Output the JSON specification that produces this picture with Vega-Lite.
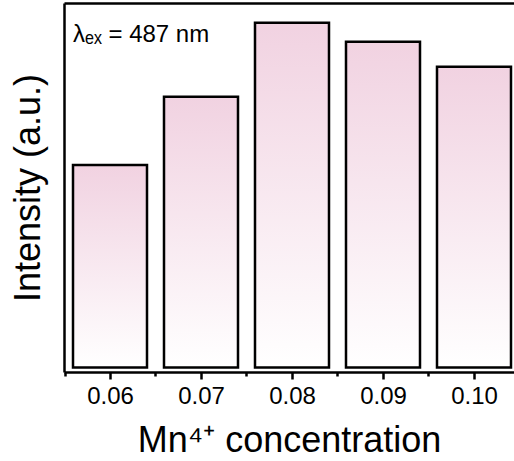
{
  "$schema": "https://vega.github.io/schema/vega-lite/v6.json",
  "autosize": "none",
  "width": 450,
  "height": 369,
  "padding": {"left": 64, "top": 3, "right": 0, "bottom": 89},
  "background": "white",
  "config": {
    "view": {"stroke": null},
    "font": "Liberation Sans",
    "axis": {"labelColor": "black", "titleColor": "black", "domainColor": "black", "tickColor": "black", "titleFontWeight": "normal", "labelFont": "Liberation Sans", "titleFont": "Liberation Sans"}
  },
  "layer": [
    {
      "data": {"values": [
        {"conc": 0.06, "intensity": 0.587},
        {"conc": 0.07, "intensity": 0.785},
        {"conc": 0.08, "intensity": 1.0},
        {"conc": 0.09, "intensity": 0.945},
        {"conc": 0.10, "intensity": 0.872}
      ]},
      "mark": {
        "type": "bar",
        "size": 74,
        "stroke": "black",
        "strokeWidth": 2.5,
        "color": {"gradient": "linear", "x1": 0, "y1": 0, "x2": 0, "y2": 1,
          "stops": [{"offset": 0, "color": "#f1d2e1"}, {"offset": 1, "color": "#ffffff"}]}
      },
      "encoding": {
        "x": {
          "field": "conc", "type": "quantitative",
          "scale": {"domain": [0.054945, 0.104396], "nice": false, "zero": false, "padding": 0},
          "axis": {
            "orient": "bottom",
            "values": [0.055, 0.06, 0.065, 0.07, 0.075, 0.08, 0.085, 0.09, 0.095, 0.10],
            "labelExpr": "round(datum.value*200)%2==0 ? format(datum.value,'.2f') : ''",
            "labelFontSize": 24,
            "labelPadding": 5,
            "labelFlush": false,
            "labelOverlap": false,
            "tickSize": {"condition": {"test": "round(datum.value*200)%2==0", "value": 7}, "value": 4},
            "tickWidth": 2.5,
            "domainWidth": 2.5,
            "grid": false,
            "title": "Mn⁴⁺ concentration",
            "titleFontSize": 36,
            "titlePadding": 15
          }
        },
        "y": {
          "field": "intensity", "type": "quantitative",
          "scale": {"domain": [-0.01305, 1.0571], "nice": false, "zero": false, "padding": 0},
          "axis": {
            "orient": "left",
            "ticks": false,
            "labels": false,
            "grid": false,
            "domainWidth": 2.5,
            "title": "Intensity (a.u.)",
            "titleFontSize": 36,
            "titlePadding": 17
          }
        }
      }
    },
    {
      "data": {"values": [{"label": "λₑₓ = 487 nm"}]},
      "mark": {"type": "text", "align": "left", "baseline": "alphabetic", "fontSize": 24, "color": "black"},
      "encoding": {
        "x": {"datum": 0.055934, "type": "quantitative",
          "axis": {"orient": "top", "labels": false, "ticks": false, "grid": false, "title": null, "domainWidth": 2.5}},
        "y": {"datum": 0.9449, "type": "quantitative", "title": "Intensity (a.u.)"},
        "text": {"field": "label", "type": "nominal"}
      }
    }
  ],
  "resolve": {"axis": {"x": "independent"}}
}
